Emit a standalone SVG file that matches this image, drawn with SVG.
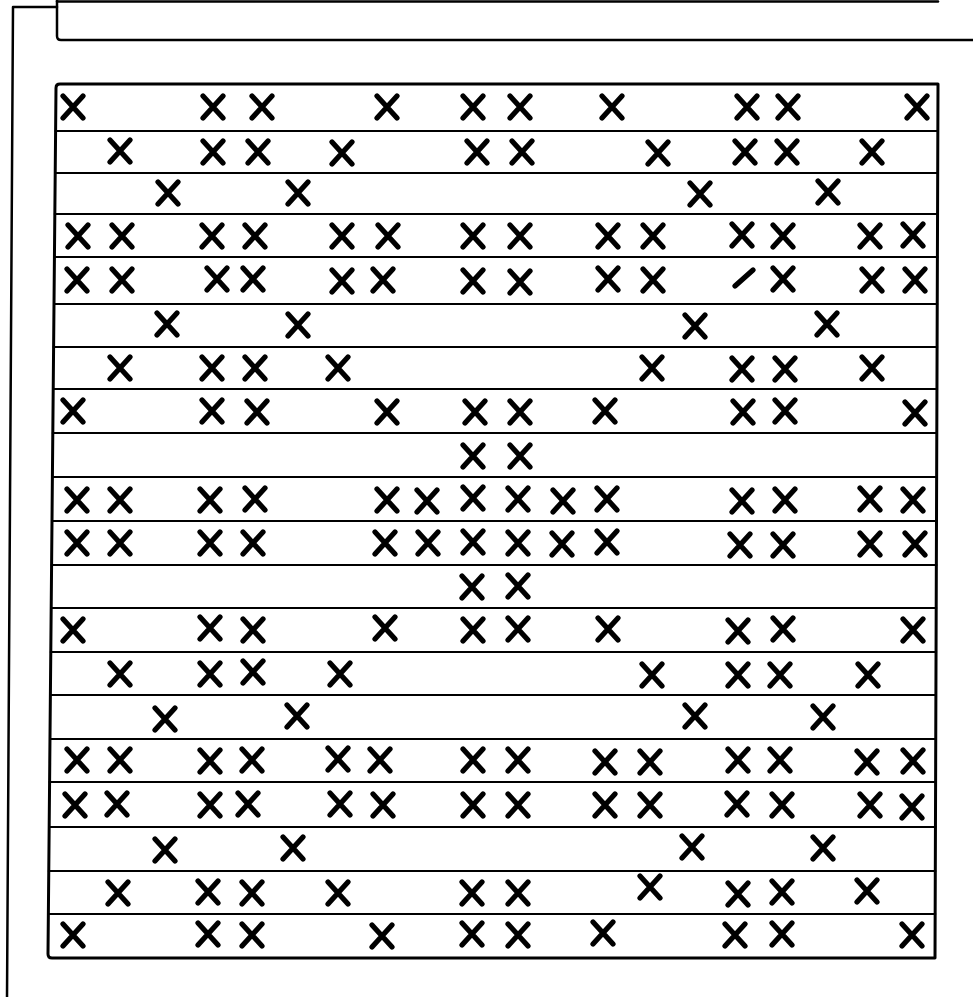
<svg xmlns="http://www.w3.org/2000/svg" width="973" height="997" viewBox="0 0 973 997">
<style>
.ln{stroke:#000;fill:none;stroke-linecap:round;stroke-linejoin:round}
.frame{stroke-width:2.5}
.row{stroke-width:2.2}
.mk{stroke:#000;stroke-width:5.2;stroke-linecap:round;fill:none}
</style>
<defs>
<path id="x" class="mk" d="M-10,-11 L10,11 M10,-11 L-10,11"/>
<path id="sl" class="mk" d="M-9,8 L9,-8"/>
</defs>
<rect width="973" height="997" fill="#fff"/>
<g id="connectors">
<path class="ln frame" d="M57,7 L13,7 L7,997"/>
</g>
<g id="header-frame">
<path class="ln frame" d="M57,0 L57,36 Q57,40 61,40 L973,40"/>
<path class="ln frame" d="M57,1.5 L938,1.5"/>
</g>
<g id="grid">
<path class="ln" stroke-width="3" d="M60,84 L938,84 L935,958 L52,958 Q48,958 48,954 L56,88 Q56,84 60,84 Z"/>
<g class="ln row">
<line x1="55.6" y1="131" x2="937.8" y2="131"/>
<line x1="55.2" y1="173" x2="937.7" y2="173"/>
<line x1="54.8" y1="214" x2="937.6" y2="214"/>
<line x1="54.4" y1="257" x2="937.4" y2="257"/>
<line x1="54.0" y1="304" x2="937.2" y2="304"/>
<line x1="53.6" y1="347" x2="937.1" y2="347"/>
<line x1="53.2" y1="389" x2="937.0" y2="389"/>
<line x1="52.8" y1="433" x2="936.8" y2="433"/>
<line x1="52.4" y1="477" x2="936.7" y2="477"/>
<line x1="52.0" y1="521" x2="936.5" y2="521"/>
<line x1="51.6" y1="565" x2="936.4" y2="565"/>
<line x1="51.2" y1="608" x2="936.2" y2="608"/>
<line x1="50.8" y1="652" x2="936.1" y2="652"/>
<line x1="50.4" y1="695" x2="935.9" y2="695"/>
<line x1="50.0" y1="739" x2="935.8" y2="739"/>
<line x1="49.6" y1="782" x2="935.6" y2="782"/>
<line x1="49.2" y1="827" x2="935.5" y2="827"/>
<line x1="48.8" y1="871" x2="935.3" y2="871"/>
<line x1="48.4" y1="914" x2="935.2" y2="914"/>
</g>
</g>
<g id="row-1">
<use href="#x" x="73" y="107"/><use href="#x" x="213" y="107"/><use href="#x" x="262" y="107"/><use href="#x" x="387" y="107"/><use href="#x" x="473" y="107"/><use href="#x" x="520" y="107"/><use href="#x" x="612" y="107"/><use href="#x" x="747" y="107"/><use href="#x" x="788" y="107"/><use href="#x" x="917" y="107"/>
</g>
<g id="row-2">
<use href="#x" x="120" y="151"/><use href="#x" x="213" y="152"/><use href="#x" x="258" y="152"/><use href="#x" x="342" y="153"/><use href="#x" x="477" y="152"/><use href="#x" x="522" y="152"/><use href="#x" x="658" y="153"/><use href="#x" x="745" y="152"/><use href="#x" x="787" y="152"/><use href="#x" x="872" y="152"/>
</g>
<g id="row-3">
<use href="#x" x="168" y="193"/><use href="#x" x="298" y="193"/><use href="#x" x="700" y="194"/><use href="#x" x="828" y="192"/>
</g>
<g id="row-4">
<use href="#x" x="78" y="236"/><use href="#x" x="122" y="236"/><use href="#x" x="212" y="236"/><use href="#x" x="255" y="236"/><use href="#x" x="342" y="236"/><use href="#x" x="388" y="236"/><use href="#x" x="473" y="236"/><use href="#x" x="520" y="236"/><use href="#x" x="608" y="236"/><use href="#x" x="653" y="236"/><use href="#x" x="742" y="235"/><use href="#x" x="783" y="236"/><use href="#x" x="870" y="236"/><use href="#x" x="913" y="235"/>
</g>
<g id="row-5">
<use href="#x" x="77" y="280"/><use href="#x" x="122" y="280"/><use href="#x" x="217" y="279"/><use href="#x" x="253" y="279"/><use href="#x" x="342" y="281"/><use href="#x" x="383" y="280"/><use href="#x" x="473" y="281"/><use href="#x" x="520" y="282"/><use href="#x" x="608" y="279"/><use href="#x" x="653" y="280"/><use href="#sl" x="744" y="278"/><use href="#x" x="783" y="279"/><use href="#x" x="872" y="280"/><use href="#x" x="915" y="280"/>
</g>
<g id="row-6">
<use href="#x" x="167" y="324"/><use href="#x" x="298" y="325"/><use href="#x" x="695" y="326"/><use href="#x" x="827" y="324"/>
</g>
<g id="row-7">
<use href="#x" x="120" y="368"/><use href="#x" x="212" y="368"/><use href="#x" x="255" y="368"/><use href="#x" x="338" y="368"/><use href="#x" x="652" y="368"/><use href="#x" x="742" y="369"/><use href="#x" x="785" y="369"/><use href="#x" x="872" y="368"/>
</g>
<g id="row-8">
<use href="#x" x="73" y="411"/><use href="#x" x="212" y="411"/><use href="#x" x="257" y="412"/><use href="#x" x="387" y="412"/><use href="#x" x="475" y="412"/><use href="#x" x="520" y="412"/><use href="#x" x="605" y="411"/><use href="#x" x="743" y="412"/><use href="#x" x="785" y="411"/><use href="#x" x="915" y="413"/>
</g>
<g id="row-9">
<use href="#x" x="473" y="456"/><use href="#x" x="520" y="456"/>
</g>
<g id="row-10">
<use href="#x" x="77" y="500"/><use href="#x" x="120" y="500"/><use href="#x" x="210" y="500"/><use href="#x" x="255" y="499"/><use href="#x" x="387" y="500"/><use href="#x" x="427" y="501"/><use href="#x" x="473" y="498"/><use href="#x" x="518" y="499"/><use href="#x" x="563" y="501"/><use href="#x" x="607" y="499"/><use href="#x" x="742" y="501"/><use href="#x" x="785" y="500"/><use href="#x" x="870" y="499"/><use href="#x" x="913" y="500"/>
</g>
<g id="row-11">
<use href="#x" x="77" y="543"/><use href="#x" x="120" y="543"/><use href="#x" x="210" y="543"/><use href="#x" x="253" y="543"/><use href="#x" x="385" y="543"/><use href="#x" x="428" y="543"/><use href="#x" x="473" y="542"/><use href="#x" x="518" y="543"/><use href="#x" x="562" y="544"/><use href="#x" x="607" y="542"/><use href="#x" x="740" y="545"/><use href="#x" x="783" y="545"/><use href="#x" x="870" y="544"/><use href="#x" x="915" y="544"/>
</g>
<g id="row-12">
<use href="#x" x="472" y="587"/><use href="#x" x="518" y="586"/>
</g>
<g id="row-13">
<use href="#x" x="73" y="630"/><use href="#x" x="210" y="628"/><use href="#x" x="253" y="630"/><use href="#x" x="385" y="628"/><use href="#x" x="473" y="630"/><use href="#x" x="518" y="629"/><use href="#x" x="608" y="629"/><use href="#x" x="738" y="631"/><use href="#x" x="783" y="629"/><use href="#x" x="913" y="630"/>
</g>
<g id="row-14">
<use href="#x" x="120" y="674"/><use href="#x" x="210" y="674"/><use href="#x" x="253" y="672"/><use href="#x" x="340" y="674"/><use href="#x" x="652" y="675"/><use href="#x" x="738" y="675"/><use href="#x" x="780" y="675"/><use href="#x" x="868" y="675"/>
</g>
<g id="row-15">
<use href="#x" x="165" y="719"/><use href="#x" x="297" y="716"/><use href="#x" x="695" y="716"/><use href="#x" x="823" y="717"/>
</g>
<g id="row-16">
<use href="#x" x="77" y="760"/><use href="#x" x="120" y="760"/><use href="#x" x="210" y="761"/><use href="#x" x="252" y="760"/><use href="#x" x="338" y="759"/><use href="#x" x="380" y="760"/><use href="#x" x="473" y="760"/><use href="#x" x="518" y="760"/><use href="#x" x="605" y="762"/><use href="#x" x="650" y="762"/><use href="#x" x="738" y="760"/><use href="#x" x="780" y="760"/><use href="#x" x="867" y="762"/><use href="#x" x="913" y="761"/>
</g>
<g id="row-17">
<use href="#x" x="75" y="805"/><use href="#x" x="117" y="804"/><use href="#x" x="210" y="805"/><use href="#x" x="248" y="804"/><use href="#x" x="340" y="804"/><use href="#x" x="383" y="805"/><use href="#x" x="473" y="805"/><use href="#x" x="518" y="805"/><use href="#x" x="605" y="805"/><use href="#x" x="650" y="805"/><use href="#x" x="737" y="804"/><use href="#x" x="782" y="805"/><use href="#x" x="870" y="805"/><use href="#x" x="912" y="807"/>
</g>
<g id="row-18">
<use href="#x" x="165" y="850"/><use href="#x" x="293" y="848"/><use href="#x" x="692" y="847"/><use href="#x" x="823" y="848"/>
</g>
<g id="row-19">
<use href="#x" x="118" y="893"/><use href="#x" x="208" y="892"/><use href="#x" x="252" y="893"/><use href="#x" x="338" y="893"/><use href="#x" x="472" y="893"/><use href="#x" x="518" y="893"/><use href="#x" x="650" y="887"/><use href="#x" x="738" y="894"/><use href="#x" x="782" y="892"/><use href="#x" x="867" y="891"/>
</g>
<g id="row-20">
<use href="#x" x="73" y="935"/><use href="#x" x="208" y="934"/><use href="#x" x="252" y="935"/><use href="#x" x="382" y="936"/><use href="#x" x="472" y="934"/><use href="#x" x="518" y="935"/><use href="#x" x="603" y="933"/><use href="#x" x="735" y="935"/><use href="#x" x="782" y="934"/><use href="#x" x="912" y="935"/>
</g>
</svg>
